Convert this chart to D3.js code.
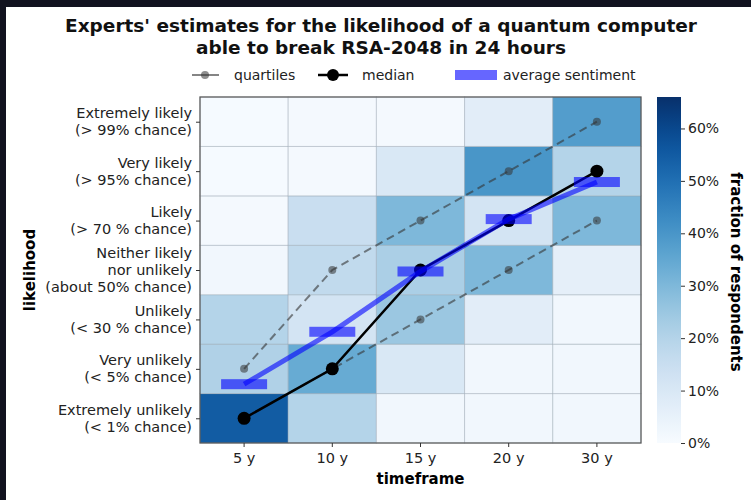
<!DOCTYPE html>
<html>
<head>
<meta charset="utf-8">
<script src="https://cdnjs.cloudflare.com/ajax/libs/d3/7.8.5/d3.min.js"></script>
<style>
  body { margin: 0; background: #ffffff; }
  svg { display: block; font-family: "DejaVu Sans", sans-serif; }
</style>
</head>
<body>
<div id="chart"></div>
<script>
// timeframes (x axis)
var timeframes = ["5 y", "10 y", "15 y", "20 y", "30 y"];

// likelihood levels, bottom to top
var levels = [
  ["Extremely unlikely", "(< 1% chance)"],
  ["Very unlikely", "(< 5% chance)"],
  ["Unlikely", "(< 30 % chance)"],
  ["Neither likely", "nor unlikely", "(about 50% chance)"],
  ["Likely", "(> 70 % chance)"],
  ["Very likely", "(> 95% chance)"],
  ["Extremely likely", "(> 99% chance)"]
];

// fraction of respondents, one list per timeframe, bottom level first
var frac5  = [0.55, 0.21, 0.20, 0.02, 0.01, 0.005, 0.005];
var frac10 = [0.20, 0.34, 0.12, 0.17, 0.15, 0.01, 0.01];
var frac15 = [0.02, 0.10, 0.25, 0.22, 0.30, 0.10, 0.01];
var frac20 = [0.02, 0.02, 0.07, 0.30, 0.12, 0.40, 0.07];
var frac30 = [0.02, 0.02, 0.02, 0.06, 0.30, 0.20, 0.38];
var fractions = [frac5, frac10, frac15, frac20, frac30];

// level index of quartiles / median per timeframe
var lowerQuartile = [0, 1, 2, 3, 4];
var upperQuartile = [1, 3, 4, 5, 6];
var median = [0, 1, 3, 4, 5];
var avgSentiment = [0.69, 1.75, 2.97, 4.03, 4.78];

var colorTicks = [0, 0.1, 0.2, 0.3, 0.4, 0.5, 0.6];
var colorMax = 0.66;

var W = 751, H = 500;
var svg = d3.select("#chart").append("svg").attr("width", W).attr("height", H);

// dark frame top/left
svg.append("rect").attr("width", W).attr("height", H).attr("fill", "#11121f");
svg.append("rect").attr("x", 6).attr("y", 7).attr("width", W - 6).attr("height", H - 7).attr("fill", "#fff");

var plot = { left: 200, right: 641, top: 97, bottom: 443 };
var fs = 14.5;

var x = d3.scaleBand().domain(timeframes).range([plot.left, plot.right]).padding(0);
var y = d3.scaleLinear().domain([-0.5, levels.length - 0.5]).range([plot.bottom, plot.top]);
var color = d3.scaleSequential(d3.interpolateBlues).domain([0, colorMax]);

// cells
var cells = [];
fractions.forEach(function(col, i) {
  col.forEach(function(v, j) { cells.push({ t: timeframes[i], lvl: j, v: v }); });
});

var g = svg.append("g");
g.selectAll("rect.cell")
  .data(cells)
  .enter().append("rect")
    .attr("class", "cell")
    .attr("x", function(d) { return x(d.t); })
    .attr("y", function(d) { return y(d.lvl + 0.5); })
    .attr("width", x.bandwidth())
    .attr("height", function(d) { return y(d.lvl - 0.5) - y(d.lvl + 0.5); })
    .attr("fill", function(d) { return color(d.v); })
    .attr("stroke", "#9aa6b2")
    .attr("stroke-opacity", 0.45)
    .attr("stroke-width", 1);

// plot frame
svg.append("rect")
  .attr("x", plot.left).attr("y", plot.top)
  .attr("width", plot.right - plot.left).attr("height", plot.bottom - plot.top)
  .attr("fill", "none").attr("stroke", "#555").attr("stroke-width", 1.2);

function cx(i) { return x(timeframes[i]) + x.bandwidth() / 2; }

var line = d3.line()
  .x(function(d, i) { return cx(i); })
  .y(function(d) { return y(d); });

// quartiles
[lowerQuartile, upperQuartile].forEach(function(q) {
  svg.append("path")
    .attr("d", line(q))
    .attr("fill", "none")
    .attr("stroke", "#333")
    .attr("stroke-opacity", 0.6)
    .attr("stroke-width", 2)
    .attr("stroke-dasharray", "8,5");
  svg.selectAll(null)
    .data(q)
    .enter().append("circle")
      .attr("cx", function(d, i) { return cx(i); })
      .attr("cy", function(d) { return y(d); })
      .attr("r", 4)
      .attr("fill", "#333")
      .attr("fill-opacity", 0.55);
});

// median
svg.append("path")
  .attr("d", line(median))
  .attr("fill", "none")
  .attr("stroke", "#000")
  .attr("stroke-width", 2.5);
svg.selectAll("circle.median")
  .data(median)
  .enter().append("circle")
    .attr("class", "median")
    .attr("cx", function(d, i) { return cx(i); })
    .attr("cy", function(d) { return y(d); })
    .attr("r", 6.5)
    .attr("fill", "#000");

// average sentiment
svg.append("path")
  .attr("d", line(avgSentiment))
  .attr("fill", "none")
  .attr("stroke", "#0000ff")
  .attr("stroke-opacity", 0.6)
  .attr("stroke-width", 5);
svg.selectAll("rect.avg")
  .data(avgSentiment)
  .enter().append("rect")
    .attr("class", "avg")
    .attr("x", function(d, i) { return cx(i) - 23; })
    .attr("y", function(d) { return y(d) - 5; })
    .attr("width", 46)
    .attr("height", 10)
    .attr("fill", "#0000ff")
    .attr("fill-opacity", 0.6);

// x axis
var xAxis = svg.append("g")
  .attr("transform", "translate(0," + plot.bottom + ")")
  .call(d3.axisBottom(x).tickSize(4).tickPadding(6));
xAxis.select(".domain").remove();
xAxis.selectAll("text").attr("font-size", fs).attr("fill", "#222").attr("font-family", "DejaVu Sans");
xAxis.selectAll("line").attr("stroke", "#333");

svg.append("text")
  .attr("x", (plot.left + plot.right) / 2).attr("y", 484)
  .attr("text-anchor", "middle").attr("font-size", 15).attr("font-weight", "bold")
  .text("timeframe");

// y axis (multi-line labels)
var yAxis = svg.append("g")
  .attr("transform", "translate(" + plot.left + ",0)")
  .call(d3.axisLeft(y).tickValues(d3.range(levels.length)).tickSize(4).tickFormat(""));
yAxis.select(".domain").remove();
yAxis.selectAll("line").attr("stroke", "#333");

var lineH = 16.8;
svg.selectAll("text.ylab")
  .data(levels)
  .enter().append("text")
    .attr("class", "ylab")
    .attr("text-anchor", "end")
    .attr("font-size", fs)
    .attr("fill", "#222")
    .each(function(d, j) {
      var t = d3.select(this);
      var y0 = y(j) - (d.length - 1) * lineH / 2 + 5;
      d.forEach(function(s, k) {
        t.append("tspan").attr("x", plot.left - 8).attr("y", y0 + k * lineH).text(s);
      });
    });

svg.append("text")
  .attr("transform", "translate(35," + ((plot.top + plot.bottom) / 2) + ") rotate(-90)")
  .attr("text-anchor", "middle").attr("font-size", 15).attr("font-weight", "bold")
  .text("likelihood");

// colorbar
var cb = { left: 657, width: 24 };
var grad = svg.append("defs").append("linearGradient")
  .attr("id", "cbgrad").attr("x1", 0).attr("y1", 1).attr("x2", 0).attr("y2", 0);
d3.range(0, 1.001, 0.05).forEach(function(t) {
  grad.append("stop").attr("offset", t).attr("stop-color", d3.interpolateBlues(t));
});
svg.append("rect")
  .attr("x", cb.left).attr("y", plot.top)
  .attr("width", cb.width).attr("height", plot.bottom - plot.top)
  .attr("fill", "url(#cbgrad)");

var cScale = d3.scaleLinear().domain([0, colorMax]).range([plot.bottom, plot.top]);
var cAxis = svg.append("g")
  .attr("transform", "translate(" + (cb.left + cb.width) + ",0)")
  .call(d3.axisRight(cScale).tickValues(colorTicks).tickSize(4).tickPadding(3)
    .tickFormat(function(d) { return Math.round(d * 100) + "%"; }));
cAxis.select(".domain").remove();
cAxis.selectAll("text").attr("font-size", 14).attr("fill", "#222").attr("font-family", "DejaVu Sans");
cAxis.selectAll("line").attr("stroke", "#333");

svg.append("text")
  .attr("transform", "translate(731," + ((plot.top + plot.bottom) / 2 + 2) + ") rotate(90)")
  .attr("text-anchor", "middle").attr("font-size", 15).attr("font-weight", "bold")
  .text("fraction of respondents");

// title
var title = svg.append("text")
  .attr("text-anchor", "middle").attr("font-size", 18.5).attr("font-weight", "bold").attr("fill", "#111");
title.append("tspan").attr("x", 381).attr("y", 32).text("Experts' estimates for the likelihood of a quantum computer");
title.append("tspan").attr("x", 381).attr("y", 54).text("able to break RSA-2048 in 24 hours");

// legend
var lg = svg.append("g").attr("transform", "translate(0,75)");
lg.append("line").attr("x1", 192).attr("x2", 219).attr("stroke", "#333").attr("stroke-opacity", 0.6).attr("stroke-width", 2);
lg.append("circle").attr("cx", 205).attr("r", 4).attr("fill", "#333").attr("fill-opacity", 0.55);
lg.append("text").attr("x", 234).attr("y", 5).attr("font-size", 14).attr("fill", "#222").text("quartiles");

lg.append("line").attr("x1", 318).attr("x2", 348).attr("stroke", "#000").attr("stroke-width", 2.5);
lg.append("circle").attr("cx", 333).attr("r", 6).attr("fill", "#000");
lg.append("text").attr("x", 362).attr("y", 5).attr("font-size", 14).attr("fill", "#222").text("median");

lg.append("rect").attr("x", 455).attr("y", -5).attr("width", 42).attr("height", 10)
  .attr("fill", "#0000ff").attr("fill-opacity", 0.6);
lg.append("text").attr("x", 503).attr("y", 5).attr("font-size", 14).attr("fill", "#222").text("average sentiment");
</script>
</body>
</html>
